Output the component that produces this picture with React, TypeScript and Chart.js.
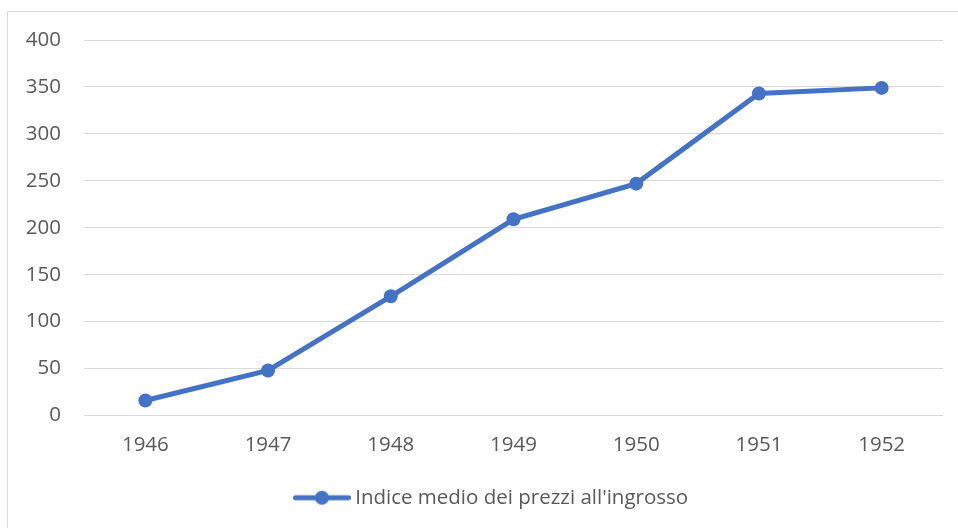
import React, { useEffect, useRef } from "react";
import { Chart, registerables } from "chart.js";

Chart.register(...registerables);

const years = ["1946", "1947", "1948", "1949", "1950", "1951", "1952"];
const priceIndex = [16, 48, 127, 209, 247, 343, 349];
const seriesLabel = "Indice medio dei prezzi all'ingrosso";
const yMin = 0;
const yMax = 400;
const yStep = 50;

const BLUE = "#4472C4";
const TEXT = "#595959";
const GRID = "#d9d9d9";
const FONT = "'Open Sans', 'Liberation Sans', sans-serif";
const FONT_SIZE = 20.5;

function makeLegendIcon(): HTMLCanvasElement {
  const c = document.createElement("canvas");
  c.width = 58;
  c.height = 16;
  const ctx = c.getContext("2d")!;
  ctx.strokeStyle = BLUE;
  ctx.lineWidth = 5;
  ctx.lineCap = "round";
  ctx.beginPath();
  ctx.moveTo(2.5, 8);
  ctx.lineTo(55.5, 8);
  ctx.stroke();
  ctx.fillStyle = BLUE;
  ctx.beginPath();
  ctx.arc(29, 8, 7, 0, Math.PI * 2);
  ctx.fill();
  return c;
}

const framePlugin = {
  id: "frame",
  afterLayout(chart: any) {
    if (chart.legend) {
      chart.legend.left += 22;
      chart.legend.right += 22;
    }
  },
  beforeDraw(chart: any) {
    const ctx = chart.ctx;
    ctx.save();
    ctx.strokeStyle = GRID;
    ctx.lineWidth = 1;
    ctx.beginPath();
    ctx.moveTo(7.5, chart.height);
    ctx.lineTo(7.5, 11.5);
    ctx.lineTo(chart.width, 11.5);
    ctx.stroke();
    ctx.restore();
  },
};

export default function App() {
  const ref = useRef<HTMLCanvasElement>(null);
  useEffect(() => {
    document.body.style.margin = "0";
    const icon = makeLegendIcon();
    const chart = new Chart(ref.current!, {
      type: "line",
      data: {
        labels: years,
        datasets: [
          {
            label: seriesLabel,
            data: priceIndex,
            borderColor: BLUE,
            backgroundColor: BLUE,
            borderWidth: 5,
            pointRadius: 7,
            pointHoverRadius: 7,
            pointBackgroundColor: BLUE,
            pointBorderWidth: 0,
            tension: 0,
          },
        ],
      },
      options: {
        animation: false,
        responsive: false,
        maintainAspectRatio: false,
        layout: { padding: { left: 0, right: 15, top: 40, bottom: 10 } },
        plugins: {
          tooltip: { enabled: false },
          legend: {
            position: "bottom",
            labels: {
              color: TEXT,
              font: { family: FONT, size: FONT_SIZE },
              usePointStyle: true,
              pointStyleWidth: 46,
              padding: 10,
              boxWidth: 46,
              boxHeight: 16,
              generateLabels: (ch: any) =>
                ch.data.datasets.map((ds: any, i: number) => ({
                  text: ds.label,
                  fillStyle: BLUE,
                  strokeStyle: BLUE,
                  lineWidth: 0,
                  pointStyle: icon,
                  datasetIndex: i,
                  hidden: false,
                  fontColor: TEXT,
                })),
            },
          },
        },
        scales: {
          x: {
            offset: true,
            grid: { display: false, drawTicks: false },
            border: { display: false },
            ticks: {
              color: TEXT,
              font: { family: FONT, size: FONT_SIZE },
              padding: 17,
              maxRotation: 0,
            },
            afterFit: (s: any) => {
              s.height = 62;
            },
          },
          y: {
            min: yMin,
            max: yMax,
            grid: { color: GRID, lineWidth: 1, drawTicks: false },
            border: { display: false },
            ticks: {
              stepSize: yStep,
              color: TEXT,
              font: { family: FONT, size: FONT_SIZE },
              padding: 23,
            },
            afterFit: (s: any) => {
              s.width = 84;
            },
          },
        },
      },
      plugins: [framePlugin],
    });
    return () => chart.destroy();
  }, []);
  return (
    <div style={{ width: 958, height: 528, background: "#fff" }}>
      <canvas ref={ref} width={958} height={528} style={{ display: "block" }} />
    </div>
  );
}
